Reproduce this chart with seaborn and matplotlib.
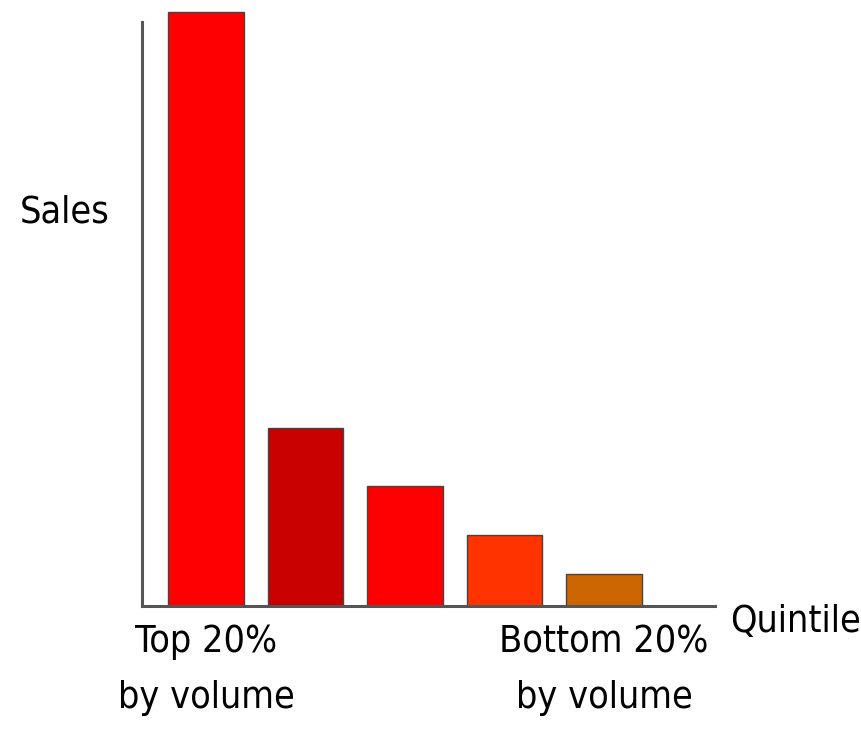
import matplotlib
matplotlib.use("Agg")
import matplotlib.pyplot as plt
from matplotlib import font_manager
import seaborn as sns
import pandas as pd

quintiles = ["Q1", "Q2", "Q3", "Q4", "Q5"]
sales = [100, 30, 20.2, 12, 5.4]
bar_colors = ["#FF0000", "#C80000", "#FF0000", "#FF3300", "#CC6600"]
tick_labels = ["Top 20%\nby volume", "", "", "", "Bottom 20%\nby volume"]

sns.set_theme(style="white")
names = {f.name for f in font_manager.fontManager.ttflist}
if "Liberation Sans Narrow" in names:
    fam = ["Liberation Sans Narrow", "DejaVu Sans"]
    stretch = "normal"
else:
    fam = ["DejaVu Sans"]
    stretch = "condensed"
plt.rcParams["font.family"] = fam
plt.rcParams["font.stretch"] = stretch
plt.rcParams["text.color"] = "black"

FS = 27
df = pd.DataFrame({"q": quintiles, "s": sales})

fig = plt.figure(figsize=(8.61, 7.29), dpi=100)
ax = fig.add_axes([142/861, 1-606/729, (715-142)/861, (606-12)/729])
sns.barplot(data=df, x="q", y="s", hue="q", palette=bar_colors, legend=False,
            width=0.76, edgecolor="#444444", linewidth=1.0, saturation=1, ax=ax)
for p in ax.patches:
    p.set_clip_on(False)

ax.set_ylim(0, 100)
ax.set_xlim(-0.643, 5.116)
ax.set_yticks([])
ax.set_xticks(range(5))
ax.set_xticklabels(tick_labels, fontsize=FS, linespacing=1.7, color="black")
ax.tick_params(axis="x", length=0, pad=13)
for s in ["top", "right"]:
    ax.spines[s].set_visible(False)
for s in ["left", "bottom"]:
    ax.spines[s].set_color("#555555")
    ax.spines[s].set_linewidth(2.2)
ax.spines["left"].set_bounds(0, 98.3)

ax.set_ylabel("Sales", rotation=0, fontsize=FS, ha="left", va="center", color="black")
ax.yaxis.set_label_coords(-0.213, 0.663)
ax.set_xlabel("Quintile", fontsize=FS, ha="left", va="center", color="black")
ax.xaxis.set_label_coords(1.026, -0.027)

fig.savefig("out.png", dpi=100)
